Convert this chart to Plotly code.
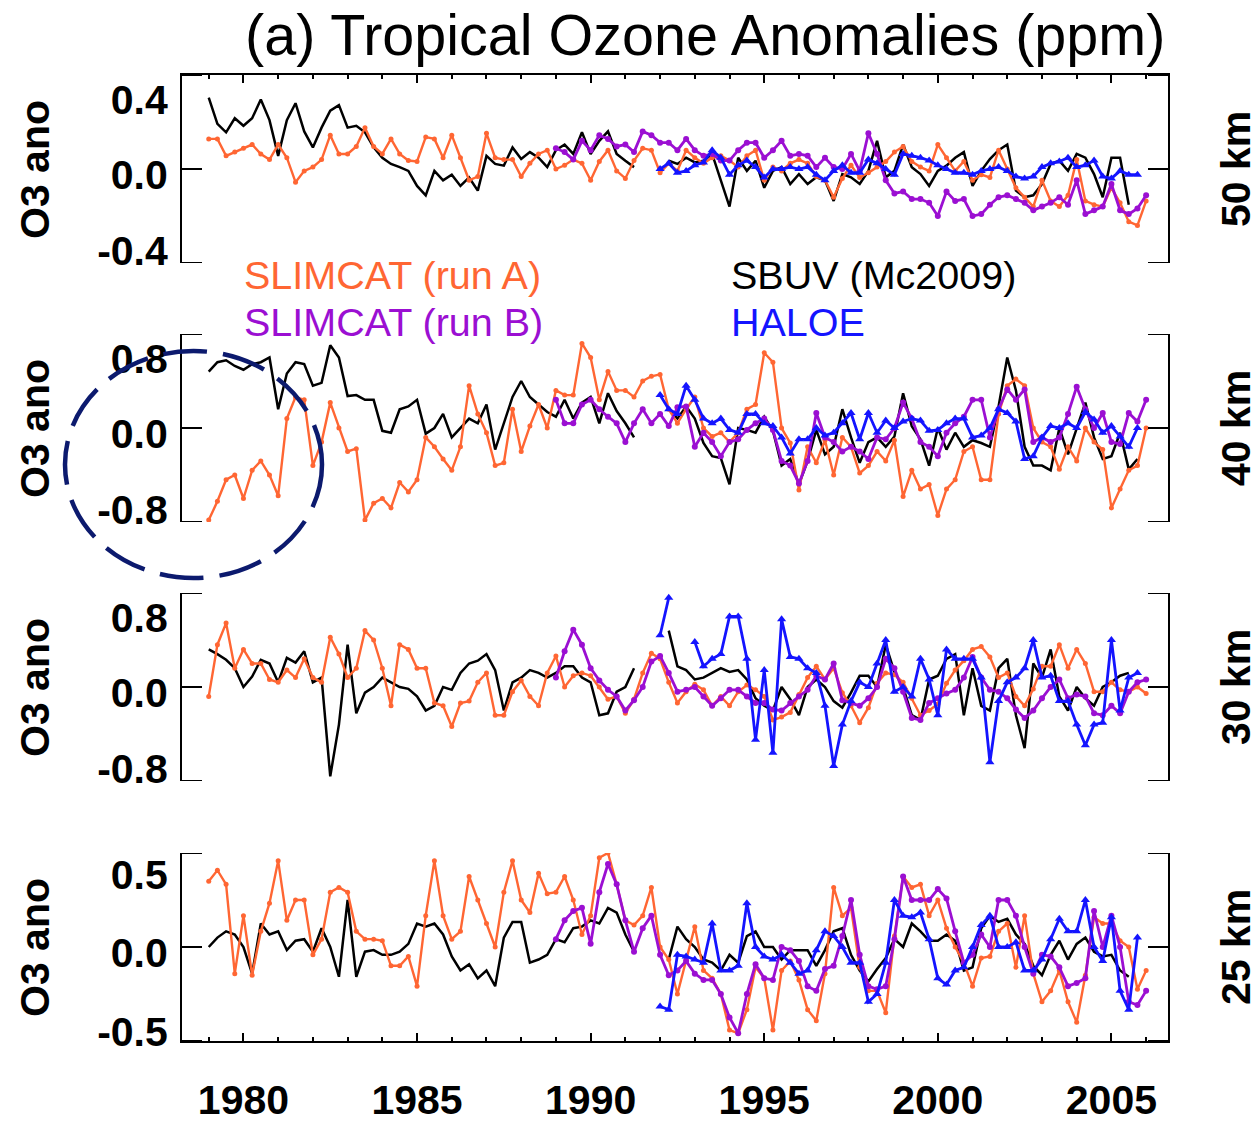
import numpy as np
import plotly.graph_objects as go

NaN = float("nan")

# ---------------- data (ppm anomalies, quarterly samples) ----------------
# SLIMCAT run A: starts 1979.0 ; SBUV: starts 1979.0 ; run B: starts 1989.0 ; HALOE: starts 1992.0
A_START, S_START, B_START, H_START = 1979.0, 1979.0, 1989.0, 1992.0
STEP = 0.25

runA_50 = [0.16, 0.16, 0.07, 0.09, 0.11, 0.13, 0.08, 0.05, 0.13, 0.06,
           -0.07, -0.01, 0.01, 0.05, 0.18, 0.08, 0.08, 0.12, 0.22, 0.12,
           0.08, 0.16, 0.08, 0.045, 0.04, 0.17, 0.16, 0.06, 0.18, 0.06,
           -0.06, -0.04, 0.19, 0.06, 0.05, 0.05,
           -0.04, 0.03, 0.08, 0.1,
           0.0, 0.02, 0.05, 0.03, -0.06, 0.04, 0.1, -0.01, -0.05, 0.045,
           0.11, 0.1, -0.02, 0.03, -0.01, 0.1, 0.06, 0.03, 0.06, 0.07,
           0.045, 0.01, 0.07, 0.1, -0.06, 0.01, -0.01, 0.03, 0.05, 0.03,
           -0.04, -0.06, -0.15,
           -0.05, 0.02, -0.045, -0.02, 0.01, 0.04, 0.09,
           0.12, 0.04, 0.01, -0.01, 0.13, 0.06, -0.01, 0.04, -0.06, -0.03,
           -0.045, 0.1, 0.0, -0.1, -0.15, -0.2, -0.06, -0.17, -0.2, -0.14,
           0.05, -0.17, -0.19, -0.2, -0.1, -0.18, -0.28, -0.3, -0.17]
sbuv_50 = [0.38, 0.24, 0.195, 0.27, 0.23, 0.27, 0.37, 0.26, 0.07, 0.26,
           0.35, 0.20, 0.115, 0.22, 0.31, 0.34, 0.22, 0.23, 0.195, 0.115,
           0.06, 0.027, 0.01, -0.01, -0.09, -0.14, -0.01, -0.06, -0.03, -0.09,
           -0.045, -0.115, 0.07, 0.027, 0.018, 0.115,
           0.053, 0.09, 0.06, 0.01,
           0.1, 0.13, 0.08, 0.195, 0.08, 0.15, 0.2, 0.08, 0.044, 0.01,
           NaN, NaN, NaN, 0.044, 0.027, 0.06, 0.035, 0.044, 0.08, -0.06,
           -0.2, 0.06, -0.01, 0.044, -0.1, -0.01, 0.01, -0.08, -0.027, -0.08,
           -0.044, -0.06, -0.17,
           -0.027, -0.044, -0.08, -0.01, 0.15, -0.044, -0.01,
           0.13, 0.01, -0.027, -0.09, -0.01, 0.018, 0.06, 0.09, -0.09, -0.01,
           0.053, 0.1, 0.13, -0.115, -0.15, -0.14, -0.08, 0.027, 0.044, -0.01,
           0.08, 0.06, -0.027, -0.15, 0.06, 0.06, -0.19]
runB_50 = [0.11, 0.09, 0.05, 0.15, 0.1, 0.18, 0.16, 0.12, 0.13, 0.09,
           0.2, 0.18, 0.14, 0.14, 0.1, 0.16, 0.1, 0.07, 0.08, 0.045,
           0.045, 0.1, 0.14, 0.14, 0.06, 0.1, 0.15, 0.07, 0.08, 0.07,
           0.01, 0.06, 0.01,
           0.0, 0.08, -0.01, 0.19, 0.08, -0.06, -0.13,
           -0.12, -0.16, -0.16, -0.18, -0.25, -0.12, -0.17, -0.16, -0.25, -0.24,
           -0.19, -0.15, -0.14, -0.16, -0.18, -0.22, -0.2, -0.18, -0.15, -0.19,
           -0.06, -0.24, -0.22, -0.2, -0.08, -0.22, -0.24, -0.21, -0.14]
haloe_50 = [0.0, 0.03, -0.02, -0.01, 0.02, 0.035, 0.1, 0.06,
            -0.03, 0.02, 0.045, 0.01, -0.045, 0.0, 0.0, 0.01, 0.0, 0.01,
            -0.03, -0.06, -0.01,
            0.02, -0.02, -0.02, 0.05, 0.03, 0.0, -0.03,
            0.08, 0.07, 0.06, 0.045, 0.02, 0.0, -0.02, -0.02, -0.03, -0.01,
            0.0, 0.01, -0.01, -0.04, -0.05, -0.04, 0.01, 0.03, 0.04, 0.06,
            0.01, 0.02, 0.045, -0.04, -0.05, -0.01, -0.03, -0.03]

runA_40 = [-0.98, -0.78, -0.55, -0.5, -0.75, -0.45, -0.35, -0.5, -0.72, 0.1,
           0.33, 0.3, -0.4, -0.15, 0.27, 0.0, -0.25, -0.22, -0.98, -0.8,
           -0.75, -0.85, -0.58, -0.68, -0.55, -0.1, -0.2, -0.33, -0.45, -0.2,
           0.45, 0.15, -0.05, -0.4, -0.37, 0.2,
           -0.25, 0.02, 0.25, 0.0,
           0.4, 0.35, 0.35, 0.9, 0.75, 0.3, 0.6, 0.4, 0.4, 0.33,
           0.5, 0.55, 0.57, 0.2, 0.05, 0.2, 0.33, 0.0, -0.09, -0.05,
           -0.15, -0.05, 0.2, 0.25, 0.8, 0.7, 0.0, -0.16, -0.66, -0.2,
           -0.37, -0.13, -0.5,
           -0.1, -0.2, -0.48, -0.4, -0.25, -0.35, -0.13,
           -0.73, -0.45, -0.65, -0.6, -0.93, -0.65, -0.55, -0.25, -0.2, -0.55,
           -0.55, 0.15, 0.45, 0.52, 0.45, 0.0, -0.15, -0.2, -0.44, -0.2,
           -0.35, 0.0, -0.15, -0.23, -0.85, -0.65, -0.45, -0.4, 0.0]
sbuv_40 = [0.6, 0.7, 0.72, 0.66, 0.62, 0.68, 0.7, 0.75, 0.2, 0.58,
           0.7, 0.68, 0.45, 0.48, 0.88, 0.75, 0.34, 0.35, 0.3, 0.3,
           -0.03, -0.05, 0.2, 0.23, 0.3, -0.06, 0.0, 0.15, -0.1, 0.0,
           0.1, 0.05, 0.25, -0.23, 0.05, 0.33,
           0.5, 0.33, 0.25, 0.17,
           0.12, 0.3, 0.1, 0.27, 0.33, 0.05, 0.37, 0.18, 0.05, -0.1,
           NaN, NaN, NaN, 0.2, 0.1, 0.23, 0.1, -0.16, -0.3, -0.32,
           -0.6, 0.0, -0.02, -0.05, 0.12, -0.03, -0.4, -0.33, -0.6, -0.35,
           -0.02, -0.28, -0.2,
           0.2, -0.1, -0.37, -0.15, -0.1, -0.2, -0.09,
           0.37, 0.02, -0.12, -0.4, 0.0, -0.23, -0.05, -0.2, -0.13, -0.16,
           -0.2, 0.23, 0.75, 0.4, -0.2, -0.4, -0.4, -0.45, 0.0, -0.28,
           0.0, 0.27, -0.1, -0.33, -0.3, -0.05, -0.44, -0.33]
runB_40 = [0.3, 0.05, 0.05, 0.25, 0.3, 0.2, 0.12, 0.05, -0.15, 0.05,
           0.2, 0.05, 0.15, 0.02, 0.22, 0.23, -0.2, -0.05, -0.15, -0.3,
           -0.15, -0.12, -0.02, 0.05, 0.1, -0.02, -0.35, -0.4, -0.59, -0.35,
           0.16, -0.1, -0.15,
           -0.25, -0.2, -0.25, -0.33, -0.1, -0.12, 0.0,
           0.27, 0.1, -0.15, -0.2, -0.3, -0.05, 0.05, 0.12, 0.3, 0.3,
           -0.1, 0.2, 0.41, 0.3, 0.41, -0.15, -0.1, -0.15, -0.1, 0.15,
           0.44, 0.2, 0.0, 0.16, -0.15, -0.17, 0.16, 0.07, 0.3]
haloe_40 = [0.35, 0.2, 0.15, 0.45, 0.3, 0.1, 0.05, 0.1,
            -0.02, -0.05, 0.15, 0.15, 0.05, 0.02, -0.1, -0.27, -0.12, -0.12,
            0.0, -0.08, -0.05,
            0.05, 0.16, -0.12, 0.16, -0.05, 0.08, 0.0,
            0.07, 0.1, 0.08, -0.03, -0.02, 0.05, 0.1, 0.1, -0.1, -0.08,
            0.0, 0.2, 0.16, 0.07, -0.33, -0.3, -0.1, 0.02, 0.0, 0.05,
            0.0, 0.17, 0.09, -0.05, 0.02, -0.09, -0.2, 0.0]

runA_30 = [-0.1, 0.45, 0.68, 0.2, 0.4, 0.25, 0.25, 0.08, 0.05, 0.18,
           0.1, 0.3, 0.1, 0.05, 0.53, 0.35, 0.1, 0.2, 0.6, 0.5,
           0.2, -0.2, 0.45, 0.4, 0.2, 0.2, -0.17, -0.2, -0.42, -0.17,
           -0.15, 0.05, 0.15, -0.3, -0.3, -0.05,
           0.07, -0.1, -0.2, 0.15,
           0.33, 0.0, 0.12, 0.15, 0.12, 0.0, -0.13, -0.1, -0.28, -0.13,
           0.15, 0.36, 0.3, 0.05, -0.17, -0.05, 0.03, -0.03, -0.2, -0.1,
           -0.2, -0.05, 0.02, -0.03, -0.1, -0.35, -0.32, -0.27, -0.08, 0.1,
           0.22, 0.08, 0.2,
           -0.06, -0.2, -0.38, -0.22, 0.04, 0.15, 0.13,
           0.05, -0.12, -0.3, -0.25, -0.18, 0.04, 0.18, 0.28, 0.4, 0.43,
           0.32, 0.1, 0.15, -0.1, -0.2, -0.02, 0.22, 0.22, 0.45, 0.2,
           0.4, 0.25, -0.05, -0.05, 0.05, -0.03, -0.05, 0.0, -0.07]
sbuv_30 = [0.4, 0.35, 0.29, 0.2, 0.0, 0.11, 0.29, 0.25, 0.05, 0.31,
           0.26, 0.38, 0.05, 0.1, -0.95, -0.4, 0.45, -0.28, -0.06, 0.0,
           0.1, 0.05, 0.0, -0.02, -0.1, -0.25, -0.2, 0.0, -0.03, 0.15,
           0.25, 0.28, 0.35, 0.18, -0.25, 0.05,
           0.1, 0.18, 0.15, 0.1,
           0.15, 0.22, 0.22, 0.1, 0.05, -0.3, -0.28, -0.05, 0.0, 0.2,
           NaN, NaN, NaN, 0.6, 0.22, 0.18, 0.08, 0.1, 0.15, 0.2,
           0.16, 0.18, 0.08, -0.12, -0.2, -0.25, 0.0, -0.13, -0.3, 0.0,
           0.08, 0.0, -0.15,
           -0.22, -0.06, 0.12, 0.12, 0.0, 0.45, 0.16,
           0.0, -0.3, -0.35, 0.08, 0.12, 0.3, 0.35, -0.3, 0.2, -0.2,
           -0.25, 0.2, 0.3, -0.3, -0.65, 0.25, 0.1, 0.4, -0.1, -0.25,
           0.0, -0.12, -0.2, 0.0, 0.05, 0.12, 0.15]
runB_30 = [0.1, 0.38, 0.61, 0.45, 0.2, 0.07, -0.03, -0.1, -0.25, -0.14,
           0.0, 0.27, 0.33, 0.15, -0.05, -0.03, 0.0, -0.1, -0.2, -0.12,
           -0.03, -0.03, -0.1, -0.17, -0.17, -0.24, -0.25, -0.17, -0.1, -0.03,
           0.12, 0.08, 0.25,
           -0.14, -0.17, -0.2, -0.12, 0.0, 0.3, 0.2,
           -0.05, -0.33, -0.35, -0.17, -0.12, -0.07, -0.03, 0.1, 0.32, 0.1,
           -0.03, -0.05, -0.12, -0.24, -0.33, -0.25, -0.12, 0.0, 0.08, -0.12,
           -0.08, -0.1, -0.28, -0.3, -0.2, -0.28, -0.05, 0.05, 0.08]
haloe_30 = [0.55, 0.95, NaN, NaN, 0.48, 0.22, 0.3, 0.35,
            0.75, 0.75, 0.3, -0.56, 0.18, -0.7, 0.72, 0.32, 0.3, 0.2,
            0.15, -0.2, -0.84,
            -0.4, -0.15, 0.05, 0.0, 0.25, 0.5, -0.05,
            0.0, -0.1, 0.3, 0.08, -0.3, 0.4, 0.3, 0.3, 0.3, 0.1,
            -0.8, -0.15, 0.05, 0.1, 0.2, 0.5, 0.1, 0.12, -0.15, -0.15,
            -0.4, -0.62, -0.4, -0.38, 0.5, -0.25, 0.1, 0.15]

runA_25 = [0.42, 0.49, 0.4, -0.17, 0.2, -0.18, 0.1, 0.28, 0.55, 0.17,
           0.3, 0.3, -0.05, 0.05, 0.35, 0.38, 0.35, 0.1, 0.05, 0.05,
           0.04, -0.12, -0.12, -0.06, -0.25, 0.2, 0.55, 0.2, 0.05, 0.1,
           0.45, 0.3, 0.15, 0.0, 0.35, 0.55,
           0.3, 0.22, 0.47, 0.34,
           0.35, 0.45, 0.3, 0.08, 0.2, 0.57, 0.6, 0.4, 0.17, 0.14,
           0.2, 0.38, 0.0, -0.08, -0.3, -0.08, 0.13, -0.15, -0.2, -0.3,
           -0.53, -0.55, -0.4, -0.13, -0.2, -0.53, -0.15, -0.09, -0.21, -0.4,
           -0.47, -0.17, 0.38,
           0.2, 0.25, -0.13, -0.28, -0.28, -0.42, 0.07,
           0.45, 0.38, 0.4, 0.2, 0.3, 0.12, 0.0, -0.1, -0.25, -0.07,
           -0.06, 0.1, 0.15, -0.13, 0.2, -0.17, -0.35, -0.28, -0.15, -0.35,
           -0.48, -0.18, 0.19, 0.15, 0.15, 0.04, 0.0, -0.27, -0.15]
sbuv_25 = [0.0, 0.06, 0.1, 0.08, 0.0, -0.17, 0.15, 0.08, 0.1, -0.02,
           0.04, 0.05, -0.03, 0.12, 0.0, -0.19, 0.3, -0.19, -0.03, -0.02,
           -0.05, -0.05, -0.03, 0.02, 0.15, 0.13, 0.15, 0.08, -0.06, -0.15,
           -0.11, -0.2, -0.15, -0.25, 0.06, 0.16,
           0.16, -0.1, -0.08, -0.05,
           0.05, 0.03, 0.12, 0.13, 0.17, 0.15, 0.25, 0.22, 0.08, -0.03,
           NaN, NaN, NaN, -0.08, 0.13, 0.05, 0.0, -0.08, -0.1, -0.15,
           -0.05, -0.1, 0.07, 0.1, 0.0, 0.0, -0.08, -0.02, -0.02, -0.02,
           -0.12, -0.02, 0.1,
           0.12, -0.05, -0.15, -0.22, -0.14, -0.07, 0.05,
           0.0, 0.15, 0.1, 0.04, 0.04, 0.08, 0.04, -0.15, -0.13, 0.12,
           0.2, 0.16, 0.18, 0.08, 0.02, -0.12, -0.18, -0.05, 0.04, -0.08,
           0.02, 0.06, -0.03, -0.06, -0.05, -0.15, -0.19]
runB_25 = [0.05, 0.17, 0.23, 0.25, 0.02, 0.35, 0.53, 0.4, 0.17, -0.03,
           0.12, 0.2, -0.05, -0.18, -0.15, -0.09, -0.17, -0.21, -0.21, -0.3,
           -0.45, -0.55, -0.3, -0.11, -0.2, -0.21, 0.0, -0.02, -0.09, -0.25,
           -0.28, -0.14, -0.12,
           0.07, 0.3, -0.05, -0.25, -0.27, -0.25, 0.05,
           0.45, 0.3, 0.3, 0.3, 0.37, 0.31, 0.1, -0.1, -0.05, 0.08,
           0.0, 0.3, 0.3, 0.2, 0.0, -0.17, -0.05, -0.06, -0.13, -0.25,
           -0.23, -0.2, 0.23, 0.0, 0.2, 0.0, -0.35, -0.37, -0.28]
haloe_25 = [-0.38, -0.4, -0.05, -0.06, -0.08, -0.1, 0.15, -0.15,
            -0.15, -0.12, 0.28, 0.0, -0.06, -0.08, -0.05, -0.1, -0.17, -0.15,
            -0.02, 0.1, 0.07,
            0.0, -0.1, -0.1, -0.35, -0.3, -0.1, 0.3,
            0.2, 0.19, 0.22, 0.05, -0.2, -0.24, -0.15, -0.13, 0.0, 0.14,
            0.2, 0.0, 0.0, 0.03, -0.15, -0.15, -0.08, 0.05, 0.18, 0.1,
            0.1, 0.3, 0.0, -0.09, 0.19, -0.28, -0.4, 0.06]

panels = [
    dict(a=runA_50, s=sbuv_50, b=runB_50, h=haloe_50, rng=0.5,
         ticks=[-0.4, 0.0, 0.4], labels=["-0.4", "0.0", "0.4"], alt="50 km"),
    dict(a=runA_40, s=sbuv_40, b=runB_40, h=haloe_40, rng=1.0,
         ticks=[-0.8, 0.0, 0.8], labels=["-0.8", "0.0", "0.8"], alt="40 km"),
    dict(a=runA_30, s=sbuv_30, b=runB_30, h=haloe_30, rng=1.0,
         ticks=[-0.8, 0.0, 0.8], labels=["-0.8", "0.0", "0.8"], alt="30 km"),
    dict(a=runA_25, s=sbuv_25, b=runB_25, h=haloe_25, rng=0.6,
         ticks=[-0.5, 0.0, 0.5], labels=["-0.5", "0.0", "0.5"], alt="25 km"),
]
year_ticks = [1980, 1985, 1990, 1995, 2000, 2005]

# ---------------- styling ----------------
C_A = "#ff6633"
C_B = "#9b0fd2"
C_S = "#000000"
C_H = "#1414ff"
FONT = "Liberation Sans, Arial, Helvetica, sans-serif"
FS = 41

W, H = 1258, 1122
ML, MR, MT, MB = 182, 90, 75, 81
PW, PH = W - ML - MR, H - MT - MB
panel_px = [(75, 263), (334, 522), (593, 781), (853, 1041)]
XR = [1978.23, 2006.63]


def px_x(px):
    return (px - ML) / PW


def px_y(py):
    return (H - MB - py) / PH


def tgrid(start, n):
    return start + STEP * np.arange(n)


def bfont(size, color="black", weight="bold"):
    return dict(size=size, family=FONT, color=color, weight=weight)


fig = go.Figure()
layout = dict(
    width=W, height=H,
    margin=dict(l=ML, r=MR, t=MT, b=MB, pad=0, autoexpand=False),
    paper_bgcolor="white", plot_bgcolor="white",
    showlegend=False,
    font=dict(family=FONT, color="black", size=FS),
)

shapes = []
annotations = []
STUB = 20 / PW

for i, p in enumerate(panels, start=1):
    key = "" if i == 1 else str(i)
    xa, ya = "x" + key, "y" + key
    fig.add_trace(go.Scatter(x=tgrid(S_START, len(p["s"])), y=p["s"], mode="lines",
                             line=dict(color=C_S, width=2.5), connectgaps=False,
                             xaxis=xa, yaxis=ya, name="SBUV (Mc2009)"))
    fig.add_trace(go.Scatter(x=tgrid(A_START, len(p["a"])), y=p["a"], mode="lines+markers",
                             line=dict(color=C_A, width=2.4), marker=dict(size=5, color=C_A),
                             xaxis=xa, yaxis=ya, name="SLIMCAT (run A)"))
    fig.add_trace(go.Scatter(x=tgrid(B_START, len(p["b"])), y=p["b"], mode="lines+markers",
                             line=dict(color=C_B, width=2.8), marker=dict(size=6, color=C_B),
                             xaxis=xa, yaxis=ya, name="SLIMCAT (run B)"))
    fig.add_trace(go.Scatter(x=tgrid(H_START, len(p["h"])), y=p["h"], mode="lines+markers",
                             line=dict(color=C_H, width=2.8), connectgaps=False,
                             marker=dict(size=8, color=C_H, symbol="triangle-up"),
                             xaxis=xa, yaxis=ya, name="HALOE"))

    top, bot = panel_px[i - 1]
    dom = [px_y(bot), px_y(top)]
    xaxis = dict(domain=[0, 1], range=XR, anchor=ya, showgrid=False, zeroline=False,
                 automargin=False)
    if i == 1:
        xaxis.update(side="top", showline=True, linewidth=2, linecolor="black",
                     ticks="inside", tickmode="linear", tick0=1980, dtick=5, ticklen=8,
                     tickwidth=2, tickcolor="black", showticklabels=False,
                     minor=dict(ticks="inside", dtick=1, tick0=1980, ticklen=4,
                                tickwidth=1.5, tickcolor="black"))
    elif i == 4:
        xaxis.update(side="bottom", showline=True, linewidth=2, linecolor="black",
                     ticks="inside", tickmode="array", tickvals=year_ticks,
                     ticktext=[str(v) for v in year_ticks], ticklen=8,
                     tickwidth=2, tickcolor="black", showticklabels=True,
                     tickfont=bfont(FS), ticklabelstandoff=22,
                     minor=dict(ticks="inside", dtick=1, tick0=1980, ticklen=4,
                                tickwidth=1.5, tickcolor="black"))
    else:
        xaxis.update(visible=False)
    layout["xaxis" + key] = xaxis
    layout["yaxis" + key] = dict(
        domain=dom, range=[-p["rng"], p["rng"]], anchor=xa, automargin=False,
        showline=True, mirror=True, linewidth=2, linecolor="black",
        ticks="", tickmode="array", tickvals=p["ticks"], ticktext=p["labels"],
        tickfont=bfont(FS), ticklabelstandoff=4, ticklabelshift=6,
        showgrid=False, zeroline=False,
    )
    for yv in (-p["rng"], 0.0, p["rng"]):
        for x0, x1 in ((0, STUB), (1 - STUB, 1)):
            shapes.append(dict(type="line", xref=f"{xa} domain", yref=ya,
                               x0=x0, x1=x1, y0=yv, y1=yv,
                               line=dict(color="black", width=2)))
    cy = (top + bot) / 2
    annotations.append(dict(text="O3 ano", x=px_x(35), y=px_y(cy + 1), xref="paper", yref="paper",
                            textangle=-90, showarrow=False, xanchor="center", yanchor="middle",
                            font=bfont(FS)))
    annotations.append(dict(text=p["alt"], x=px_x(1236), y=px_y(cy), xref="paper", yref="paper",
                            textangle=-90, showarrow=False, xanchor="center", yanchor="middle",
                            font=bfont(FS)))

annotations.append(dict(text="(a) Tropical Ozone Anomalies (ppm)", x=px_x(705), y=px_y(35),
                        xref="paper", yref="paper", showarrow=False,
                        xanchor="center", yanchor="middle", font=bfont(57.5, weight="normal")))
for txt, col, lx, ly in (("SLIMCAT (run A)", C_A, 242, 275), ("SLIMCAT (run B)", C_B, 242, 322),
                         ("SBUV (Mc2009)", C_S, 729, 275), ("HALOE", C_H, 729, 322)):
    annotations.append(dict(text=txt, x=px_x(lx), y=px_y(ly), xref="paper", yref="paper",
                            showarrow=False, xanchor="left", yanchor="middle",
                            font=bfont(39.5, col, weight="normal")))

shapes.append(dict(type="circle", xref="paper", yref="paper",
                   x0=px_x(65), x1=px_x(322), y0=px_y(578), y1=px_y(351),
                   line=dict(color="#0c1a6e", width=4.5, dash="44px,16px")))

layout["shapes"] = shapes
layout["annotations"] = annotations
fig.update_layout(**layout)
fig.write_html("out.html")
